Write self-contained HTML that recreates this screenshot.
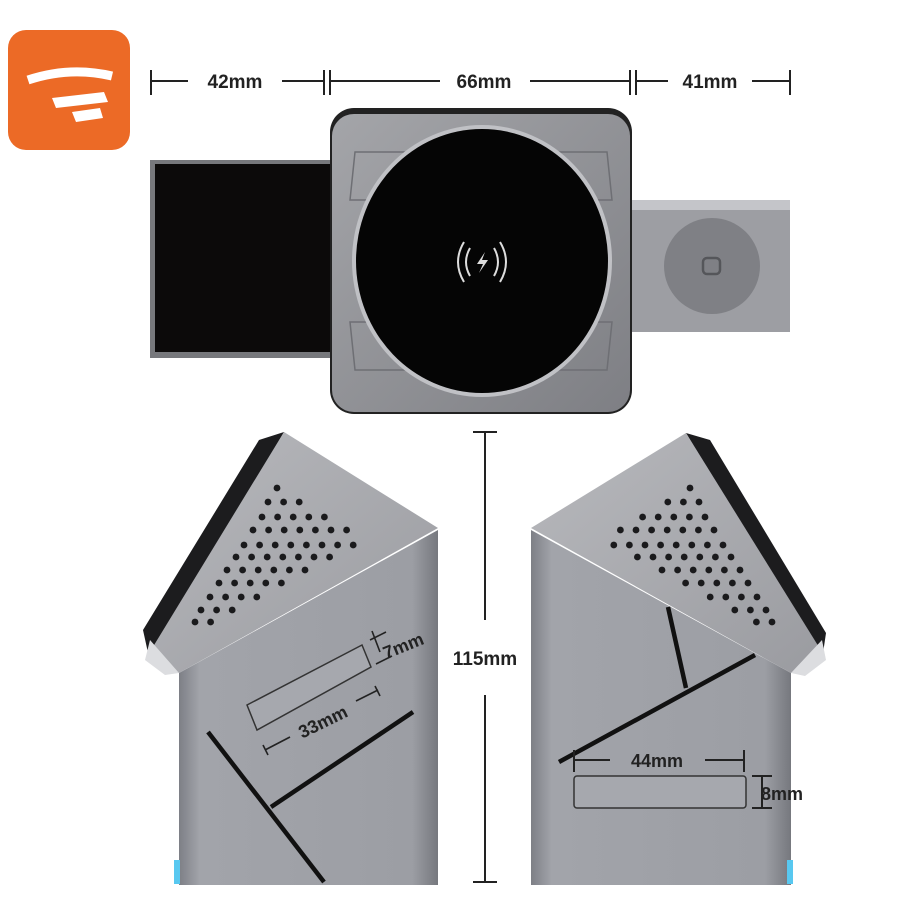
<!DOCTYPE html>
<html><head><meta charset="utf-8"><style>
html,body{margin:0;padding:0;background:#fff;}
svg{display:block}
text{font-family:"Liberation Sans",sans-serif;font-weight:bold;fill:#222}
</style></head><body>
<svg id="s" width="900" height="900" viewBox="0 0 900 900" xmlns="http://www.w3.org/2000/svg">
<defs>
<linearGradient id="gsq" x1="0" y1="0" x2="1" y2="1"><stop offset="0" stop-color="#a4a5a9"/><stop offset="1" stop-color="#7e7f84"/></linearGradient>
<linearGradient id="gbody" x1="0" y1="0" x2="1" y2="0"><stop offset="0" stop-color="#7d7f86"/><stop offset="0.08" stop-color="#a2a4aa"/><stop offset="0.9" stop-color="#9c9ea4"/><stop offset="1" stop-color="#76787e"/></linearGradient>
<linearGradient id="ghead" x1="0" y1="0" x2="1" y2="1"><stop offset="0" stop-color="#b8b9bd"/><stop offset="1" stop-color="#9a9ba0"/></linearGradient>
</defs>

<rect x="8" y="30" width="122" height="120" rx="18" fill="#ec6a26"/>
<path d="M28 80 Q70 66 112 76" stroke="#fff" stroke-width="9" fill="none"/>
<path d="M52 98 L104 92 L108 102 L56 108Z" fill="#fff"/>
<path d="M72 112 L100 108 L103 118 L76 122Z" fill="#fff"/>

<g stroke="#222" stroke-width="2">
<line x1="151" y1="70" x2="151" y2="95"/><line x1="324" y1="70" x2="324" y2="95"/><line x1="330" y1="70" x2="330" y2="95"/>
<line x1="630" y1="70" x2="630" y2="95"/><line x1="636" y1="70" x2="636" y2="95"/><line x1="790" y1="70" x2="790" y2="95"/>
<line x1="151" y1="81" x2="188" y2="81"/><line x1="282" y1="81" x2="324" y2="81"/>
<line x1="330" y1="81" x2="440" y2="81"/><line x1="530" y1="81" x2="630" y2="81"/>
<line x1="636" y1="81" x2="668" y2="81"/><line x1="752" y1="81" x2="790" y2="81"/>
</g>
<text x="235" y="88" font-size="19" text-anchor="middle">42mm</text>
<text x="484" y="88" font-size="19" text-anchor="middle">66mm</text>
<text x="710" y="88" font-size="19" text-anchor="middle">41mm</text>

<rect x="150" y="160" width="185" height="198" fill="#77787c"/>
<rect x="155" y="164" width="178" height="188" fill="#0c0a0a"/>
<rect x="632" y="200" width="158" height="132" fill="#9d9ea3"/>
<rect x="632" y="200" width="158" height="10" fill="#c4c5c9"/>
<circle cx="712" cy="266" r="48" fill="#7f8085"/>
<rect x="703" y="258" width="17" height="16" rx="4" fill="none" stroke="#55565a" stroke-width="2.5"/>
<rect x="330" y="108" width="302" height="306" rx="24" fill="#222"/>
<rect x="332" y="114" width="298" height="298" rx="22" fill="url(#gsq)"/>
<g fill="none" stroke="#6e6f74" stroke-width="1.5">
<path d="M355 152 L405 152 L370 200 L350 200 Z"/><path d="M607 152 L557 152 L592 200 L612 200Z"/>
<path d="M355 370 L405 370 L370 322 L350 322Z"/><path d="M607 370 L557 370 L592 322 L612 322Z"/>
</g>
<ellipse cx="482" cy="261" rx="130" ry="136" fill="#c0c1c5"/>
<ellipse cx="482" cy="261" rx="126" ry="132" fill="#050505"/>
<g fill="none" stroke="#ddd" stroke-width="2">
<path d="M470 248 Q462 262 470 276"/><path d="M464 242 Q452 262 464 282"/>
<path d="M494 248 Q502 262 494 276"/><path d="M500 242 Q512 262 500 282"/>
</g>
<path d="M485 252 L477 264 L483 264 L479 273 L488 260 L482 260Z" fill="#ddd"/>

<g stroke="#222" stroke-width="2">
<line x1="473" y1="432" x2="497" y2="432"/><line x1="473" y1="882" x2="497" y2="882"/>
<line x1="485" y1="432" x2="485" y2="620"/><line x1="485" y1="695" x2="485" y2="882"/>
</g>
<text x="485" y="665" font-size="19" text-anchor="middle">115mm</text>

<polygon points="179,673 438,530 438,885 179,885" fill="url(#gbody)"/>
<rect x="174" y="860" width="6" height="24" fill="#58c8f0"/>
<polygon points="259,440 284,432 150,662 143,630" fill="#1c1c1e"/>
<polygon points="284,432 438,528 179,673 148,655" fill="url(#ghead)"/>
<polygon points="150,640 179,673 165,675 145,660" fill="#dcdde0"/>
<g id="dl" fill="#1a1a1c"></g>
<g stroke="#111" stroke-width="4.5" fill="none">
<line x1="208" y1="732" x2="324" y2="882"/><line x1="271" y1="807" x2="413" y2="712"/>
</g>
<polygon points="247,705 362,645 371,667 257,730" fill="#a6a8ae" stroke="#333" stroke-width="1.5"/>
<g stroke="#222" stroke-width="1.6" fill="none">
<line x1="372" y1="631" x2="380" y2="652"/><line x1="370" y1="640" x2="386" y2="632"/>
<line x1="376" y1="664" x2="392" y2="656"/>
<line x1="263" y1="745" x2="268" y2="755"/><line x1="375" y1="686" x2="380" y2="696"/>
<line x1="265" y1="750" x2="290" y2="737"/><line x1="356" y1="701" x2="378" y2="690"/>
</g>
<text x="403" y="652" font-size="18" text-anchor="middle" transform="rotate(-22 403 645)">7mm</text>
<text x="323" y="728" font-size="18" text-anchor="middle" transform="rotate(-26 323 722)">33mm</text>

<polygon points="531,530 791,673 791,885 531,885" fill="url(#gbody)"/>
<rect x="787" y="860" width="6" height="24" fill="#58c8f0"/>
<polygon points="686,433 710,440 826,633 822,660" fill="#1c1c1e"/>
<polygon points="686,433 531,528 791,673 822,652" fill="url(#ghead)"/>
<polygon points="822,640 791,673 805,676 826,660" fill="#dcdde0"/>
<g id="dr" fill="#1a1a1c"></g>
<g stroke="#111" stroke-width="4.5" fill="none">
<line x1="559" y1="762" x2="755" y2="655"/><line x1="668" y1="607" x2="686" y2="688"/>
</g>
<rect x="574" y="776" width="172" height="32" rx="3" fill="#a6a8ae" stroke="#333" stroke-width="1.5"/>
<g stroke="#222" stroke-width="2" fill="none">
<line x1="574" y1="750" x2="574" y2="772"/><line x1="744" y1="750" x2="744" y2="772"/>
<line x1="574" y1="760" x2="610" y2="760"/><line x1="705" y1="760" x2="744" y2="760"/>
<line x1="752" y1="776" x2="772" y2="776"/><line x1="752" y1="808" x2="772" y2="808"/>
<line x1="762" y1="776" x2="762" y2="808"/>
</g>
<text x="657" y="767" font-size="18" text-anchor="middle">44mm</text>
<text x="782" y="800" font-size="18" text-anchor="middle">8mm</text>
</svg>
<script>
var rows=[[488,277,1],[502,268,3],[517,262,5],[530,253,7],[545,244,8],[557,236,7],[570,227,6],[583,219,5],[597,210,4],[610,201,3],[622,195,2]];
var ns="http://www.w3.org/2000/svg",L=document.getElementById("dl"),R=document.getElementById("dr");
rows.forEach(function(r){for(var i=0;i<r[2];i++){var x=r[1]+i*15.6;
var c=document.createElementNS(ns,"circle");c.setAttribute("cx",x);c.setAttribute("cy",r[0]);c.setAttribute("r",3.4);L.appendChild(c);
var d=document.createElementNS(ns,"circle");d.setAttribute("cx",967-x);d.setAttribute("cy",r[0]);d.setAttribute("r",3.4);R.appendChild(d);}});
</script>
</body></html>
